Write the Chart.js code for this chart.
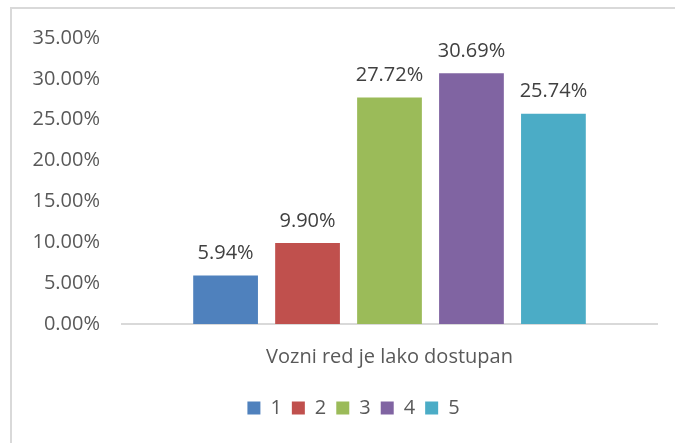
<!DOCTYPE html>
<html>
<head>
<meta charset="utf-8">
<script src="https://cdn.jsdelivr.net/npm/chart.js@4"></script>
<style>
  html, body { margin: 0; padding: 0; background: #fff; }
  #wrap { width: 675px; height: 443px; position: relative; }
</style>
</head>
<body>
<div id="wrap"><canvas id="myChart" width="675" height="443"></canvas></div>
<script>
const categories = ['Vozni red je lako dostupan'];
const seriesNames = ['1', '2', '3', '4', '5'];
const seriesValues = [5.94, 9.90, 27.72, 30.69, 25.74];
const seriesColors = ['#4f81bd', '#c0504d', '#9bbb59', '#8064a2', '#4bacc6'];
const yTicks = [0, 5, 10, 15, 20, 25, 30, 35];

// frame lines at top and left, like the cropped Excel chart border
const framePlugin = {
  id: 'frame',
  beforeDraw(chart) {
    const ctx = chart.ctx;
    ctx.save();
    ctx.fillStyle = '#fff';
    ctx.fillRect(0, 0, chart.width, chart.height);
    ctx.strokeStyle = '#d9d9d9';
    ctx.lineWidth = 2;
    ctx.beginPath();
    ctx.moveTo(11, chart.height);
    ctx.lineTo(11, 8);
    ctx.lineTo(chart.width, 8);
    ctx.stroke();
    ctx.restore();
  },
  afterLayout(chart) {
    // legend sits a bit right of canvas centre in the original
    chart.legend.left += 16;
    chart.legend.right += 16;
  }
};

// value labels on top of bars
const valueLabels = {
  id: 'valueLabels',
  afterDatasetsDraw(chart) {
    const ctx = chart.ctx;
    ctx.save();
    ctx.font = '20px "Open Sans"';
    ctx.fillStyle = '#404040';
    ctx.textAlign = 'center';
    ctx.textBaseline = 'bottom';
    chart.data.datasets.forEach((ds, i) => {
      chart.getDatasetMeta(i).data.forEach((bar, j) => {
        ctx.fillText(ds.data[j].toFixed(2) + '%', bar.x, bar.y - 12);
      });
    });
    ctx.restore();
  }
};

const data = {
  labels: categories,
  datasets: seriesNames.map((name, i) => ({
    label: name,
    data: [seriesValues[i]],
    backgroundColor: seriesColors[i],
    borderWidth: 0,
    categoryPercentage: 0.766,
    barPercentage: 0.79
  }))
};

const config = {
  type: 'bar',
  data,
  options: {
    responsive: false,
    animation: false,
    layout: { padding: { top: 38, right: 18, left: 18, bottom: 15 } },
    scales: {
      y: {
        min: 0,
        max: 35,
        afterBuildTicks: s => { s.ticks = yTicks.map(v => ({ value: v })); },
        afterFit: s => { s.width = 104; },
        grid: { display: false, drawTicks: false },
        border: { display: false },
        ticks: {
          padding: 22,
          color: '#595959',
          font: { family: 'Open Sans', size: 20 },
          callback: v => v.toFixed(2) + '%'
        }
      },
      x: {
        afterFit: s => { s.height -= 2; },
        grid: { display: false, drawTicks: false },
        border: { display: true, color: '#d9d9d9', width: 2 },
        ticks: {
          padding: 21,
          color: '#595959',
          font: { family: 'Open Sans', size: 20 }
        }
      }
    },
    plugins: {
      legend: {
        position: 'bottom',
        labels: {
          boxWidth: 13,
          boxHeight: 13,
          padding: 10,
          color: '#595959',
          font: { family: 'Open Sans', size: 20 }
        }
      },
      tooltip: { enabled: false }
    }
  },
  plugins: [framePlugin, valueLabels]
};

const myChart = new Chart(document.getElementById('myChart'), config);
</script>
</body>
</html>
